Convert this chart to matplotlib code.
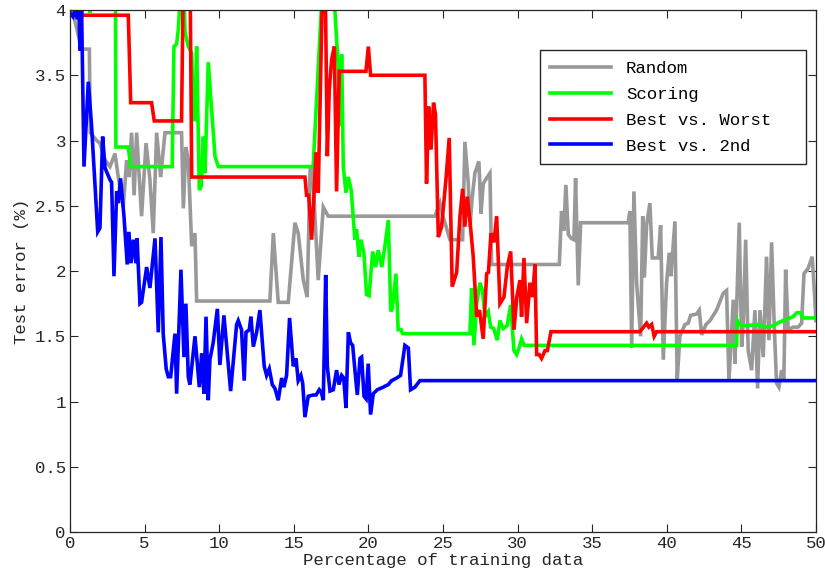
import numpy as np
import matplotlib
matplotlib.use("Agg")
import matplotlib.pyplot as plt
from matplotlib.ticker import FormatStrFormatter

# --- DATA ---
random_x = [0, 0.22, 0.78, 1.30, 1.36, 1.79, 2.01, 2.35, 2.68, 3.02, 3.2, 3.57, 3.8, 3.95,
            4.13, 4.3, 4.47, 4.8, 5.1, 5.36, 5.58, 5.81, 6.08, 6.37, 7.48, 7.6, 7.77, 7.93,
            8.16, 8.38, 8.49, 13.4, 13.63, 13.96, 14.63, 15.08, 15.3, 15.64, 15.9, 16.1,
            16.25, 16.64, 16.98, 17.31, 24.46, 24.8, 24.95, 25.47, 26.32, 26.47, 26.7,
            26.81, 26.95, 27.14, 27.41, 27.55, 27.7, 27.86, 28.15, 28.26, 32.8, 32.95,
            33.1, 33.24, 33.4, 33.6, 33.78, 33.89, 34.07, 34.23, 37.42, 37.53, 37.65,
            37.8, 37.98, 38.25, 38.39, 38.5, 38.65, 38.87, 39.03, 39.43, 39.59, 39.77,
            39.99, 40.17, 40.28, 40.55, 40.7, 40.88, 41.22, 41.44, 41.6, 42.0, 42.18,
            42.34, 42.63, 42.9, 43.34, 43.79, 44.01, 44.17, 44.46, 44.57, 44.86, 45.02,
            45.13, 45.29, 45.46, 45.69, 45.91, 46.09, 46.25, 46.47, 46.69, 46.85, 47.03,
            47.2, 47.36, 47.52, 47.7, 47.85, 47.97, 48.14, 48.48, 48.8, 49.04, 49.2,
            49.48, 49.75, 49.93, 50]
random_y = [4.0, 3.97, 3.70, 3.70, 3.06, 3.0, 2.98, 2.85, 2.80, 2.90, 2.75, 2.49, 2.85, 2.72,
            3.06, 2.58, 3.06, 2.42, 2.98, 2.70, 2.29, 3.06, 2.72, 3.06, 3.06, 2.48, 2.95, 2.85,
            2.19, 2.29, 1.77, 1.77, 2.29, 1.76, 1.76, 2.37, 2.29, 1.93, 1.80, 2.79,
            2.79, 1.93, 2.49, 2.42, 2.42, 2.52, 2.44, 2.24, 2.24, 2.99, 2.67,
            2.34, 2.55, 2.75, 2.84, 2.44, 2.67, 2.70, 2.75, 2.05, 2.05, 2.46,
            2.31, 2.66, 2.28, 2.25, 2.24, 2.71, 1.89, 2.37, 2.37, 2.46, 1.41,
            2.61, 1.91, 1.50, 2.42, 1.95, 2.35, 2.52, 2.10, 2.10, 2.35, 1.32,
            1.91, 2.14, 1.96, 2.38, 1.16, 1.50, 1.59, 1.60, 1.66, 1.67, 1.70,
            1.51, 1.59, 1.62, 1.70, 1.83, 1.85, 1.16, 1.78, 1.29, 2.37, 1.42,
            1.60, 2.24, 1.39, 1.24, 1.70, 1.10, 1.70, 1.34, 2.11, 1.47, 2.22,
            1.60, 1.14, 1.11, 1.24, 1.16, 2.01, 1.55, 1.57, 1.57, 1.60, 1.98,
            2.02, 2.11, 1.78, 1.62]

scoring_x = [0, 1.2, 1.34, 1.5, 3.05, 3.08, 3.91, 4.07, 6.85, 6.97, 7.15, 7.26, 7.5, 7.65,
             7.71, 7.93, 8.16, 8.27, 8.38, 8.49, 8.67, 8.8, 8.94, 9.05, 9.27, 9.5, 9.72,
             9.94, 16.3, 16.98, 17.6, 17.98, 18.1, 18.21, 18.32, 18.5, 18.66, 18.85, 19.1,
             19.21, 19.37, 19.5, 19.7, 19.88, 20.05, 20.29, 20.49, 20.66, 20.9, 21.11,
             21.34, 21.5, 21.62, 21.85, 22.0, 22.2, 22.3, 26.81, 26.92, 27.08, 27.26,
             27.48, 27.65, 27.82, 28.04, 28.2, 28.4, 28.64, 28.82, 29.04, 29.3, 29.54,
             29.76, 29.94, 30.1, 30.27, 30.45, 44.68, 44.73, 44.9, 45.3, 46.02, 46.69,
             47.1, 47.59, 48.03, 48.48, 48.71, 48.97, 49.15, 50]
scoring_y = [4.3, 4.2, 3.98, 4.2, 4.2, 2.95, 2.95, 2.80, 2.80, 3.72, 3.74, 3.85, 4.3, 4.1,
             3.83, 3.72, 3.67, 3.16, 3.16, 3.72, 2.62, 2.65, 3.03, 2.75, 3.60, 3.23, 2.88,
             2.80, 2.80, 4.3, 4.3, 3.57, 3.11, 3.66, 2.80, 2.60, 2.72, 2.62, 2.24,
             2.32, 2.11, 2.24, 2.14, 1.82, 1.81, 2.15, 2.03, 2.16, 2.03, 2.19,
             2.39, 1.69, 1.72, 1.98, 1.55, 1.55, 1.52, 1.52, 1.87, 1.43, 1.75,
             1.91, 1.85, 1.65, 1.69, 1.57, 1.56, 1.47, 1.62, 1.56, 1.58, 1.74,
             1.39, 1.36, 1.41, 1.48, 1.43, 1.43, 1.62, 1.59, 1.58, 1.59, 1.57,
             1.58, 1.61, 1.63, 1.65, 1.68, 1.68, 1.64, 1.64]

worst_x = [0, 3.91, 4.07, 5.47, 5.65, 7.48, 7.6, 8.05, 8.16, 15.75, 15.86, 16.0, 16.2,
           16.35, 16.49, 16.64, 16.95, 17.1, 17.25, 17.38, 17.54, 17.72, 17.87, 18.05,
           19.84, 20.0, 20.15, 23.79, 23.9, 24.04, 24.2, 24.37, 24.5, 24.69, 24.91, 25.2,
           25.42, 25.62, 25.92, 26.14, 26.32, 26.47, 26.63, 26.8, 27.03, 27.26, 27.45,
           27.7, 27.93, 28.05, 28.22, 28.42, 28.6, 28.82, 29.09, 29.31, 29.54, 29.76,
           29.95, 30.16, 30.27, 30.43, 30.61, 30.83, 31.0, 31.17, 31.28, 31.45, 31.61,
           31.84, 32.0, 32.24, 38.2, 38.65, 38.8, 38.99, 39.16, 39.32, 50]
worst_y = [3.96, 3.96, 3.29, 3.29, 3.15, 3.15, 4.3, 4.3, 2.72, 2.72, 2.58, 2.58, 2.24,
           2.57, 2.91, 2.60, 4.3, 4.3, 2.88, 3.39, 3.62, 3.72, 2.61, 3.53,
           3.53, 3.72, 3.50, 3.50, 2.67, 3.26, 2.93, 3.29, 3.2, 2.26, 2.34, 2.7,
           3.02, 1.88, 1.99, 2.42, 2.63, 2.34, 2.57, 2.4, 2.11, 1.65, 1.7,
           1.48, 1.98, 1.99, 2.29, 2.22, 2.42, 1.75, 1.80, 2.03, 2.15, 1.55,
           1.8, 1.93, 1.65, 2.10, 1.60, 1.91, 1.8, 2.05, 1.36, 1.36, 1.33,
           1.39, 1.39, 1.535, 1.535, 1.60, 1.57, 1.59, 1.50, 1.535, 1.535]

second_x = [0, 0.2, 0.35, 0.5, 0.6, 0.67, 0.78, 0.94, 1.23, 1.45, 1.86, 2.01, 2.19, 2.35,
            2.68, 2.79, 2.95, 3.13, 3.24, 3.39, 3.62, 3.84, 3.95, 4.09, 4.25, 4.42, 4.5,
            4.69, 4.8, 5.14, 5.36, 5.7, 5.92, 6.1, 6.25, 6.45, 6.59, 6.75, 7.04, 7.15,
            7.44, 7.64, 7.77, 7.93, 8.04, 8.38, 8.67, 8.83, 8.98, 9.12, 9.27, 9.38, 9.6,
            9.88, 10.05, 10.32, 10.77, 11.17, 11.28, 11.5, 11.68, 11.8, 12.02, 12.13,
            12.29, 12.51, 12.73, 13.02, 13.18, 13.36, 13.56, 13.74, 13.96, 14.19, 14.34,
            14.52, 14.72, 14.97, 15.15, 15.3, 15.48, 15.6, 15.75, 15.97, 16.31, 16.5,
            16.71, 16.85, 16.98, 17.14, 17.25, 17.43, 17.65, 17.87, 18.03, 18.21, 18.35,
            18.5, 18.66, 18.81, 18.95, 19.1, 19.26, 19.44, 19.55, 19.71, 19.85, 19.99,
            20.15, 20.33, 20.6, 21.0, 21.34, 21.56, 21.9, 22.16, 22.45, 22.68, 22.83,
            23.12, 23.46, 50]
second_y = [3.98, 3.95, 4.0, 3.93, 4.0, 3.69, 4.0, 2.80, 3.45, 3.11, 2.30, 2.33, 3.03, 2.79,
            2.70, 2.68, 1.96, 2.61, 2.52, 2.71, 2.42, 2.05, 2.30, 2.06, 2.24, 2.06, 2.25,
            1.75, 1.76, 2.03, 1.87, 2.25, 1.53, 2.26, 1.52, 1.25, 1.19, 1.19, 1.52, 1.06,
            2.01, 1.34, 1.75, 1.19, 1.13, 1.50, 1.11, 1.37, 1.06, 1.65, 1.01, 1.32, 1.45,
            1.71, 1.28, 1.66, 1.08, 1.59, 1.62, 1.55, 1.16, 1.53, 1.55, 1.65,
            1.42, 1.53, 1.70, 1.27, 1.20, 1.25, 1.13, 1.10, 1.01, 1.18, 1.11,
            1.20, 1.64, 1.27, 1.33, 1.16, 1.20, 1.14, 0.88, 1.04, 1.05, 1.05,
            1.09, 1.07, 1.01, 1.97, 1.27, 1.08, 1.09, 1.24, 1.13, 1.20, 1.18,
            0.95, 1.53, 1.45, 1.43, 1.24, 1.05, 1.33, 1.34, 1.04, 1.02, 1.29,
            0.90, 1.06, 1.09, 1.11, 1.13, 1.16, 1.18, 1.20, 1.43, 1.41, 1.09,
            1.11, 1.16, 1.16]

labels = ['Random', 'Scoring', 'Best vs. Worst', 'Best vs. 2nd']
colors = ['#999999', '#00ff00', '#ff0000', '#0000ff']

plt.rcParams['font.family'] = ['Liberation Mono', 'DejaVu Sans Mono']
plt.rcParams['font.size'] = 12.5

fig = plt.figure(figsize=(8.25, 5.76), dpi=100)
ax = fig.add_axes([0.0848, 0.0764, 0.9042, 0.9062])

series = [(random_x, random_y), (scoring_x, scoring_y),
          (worst_x, worst_y), (second_x, second_y)]
for (xs, ys), lab, col in zip(series, labels, colors):
    ax.plot(xs, ys, color=col, lw=2.6, label=lab, solid_joinstyle='miter')

ax.set_xlim(0, 50)
ax.set_ylim(0, 4)
ax.set_xticks(np.arange(0, 51, 5))
ax.set_yticks(np.arange(0, 4.01, 0.5))
ax.yaxis.set_major_formatter(FormatStrFormatter('%g'))
ax.tick_params(direction='in', length=6, width=0.8, top=True, right=True,
               colors='#262626', labelcolor='#262626', pad=3)
for sp in ax.spines.values():
    sp.set_color('#262626')
    sp.set_linewidth(0.9)

ax.set_xlabel('Percentage of training data', color='#262626', labelpad=1)
ax.set_ylabel('Test error (%)', color='#262626', labelpad=4)

# legend box sized like the reference one
leg = ax.legend(loc='upper left', bbox_to_anchor=(0.630, 0.703, 0.357, 0.220),
                mode='expand', borderaxespad=0, fancybox=False, framealpha=1,
                edgecolor='#262626', handlelength=3.5, handletextpad=0.85,
                labelspacing=0.62, borderpad=0.6)
leg.get_frame().set_linewidth(1.0)

fig.savefig('out.png', dpi=100)
